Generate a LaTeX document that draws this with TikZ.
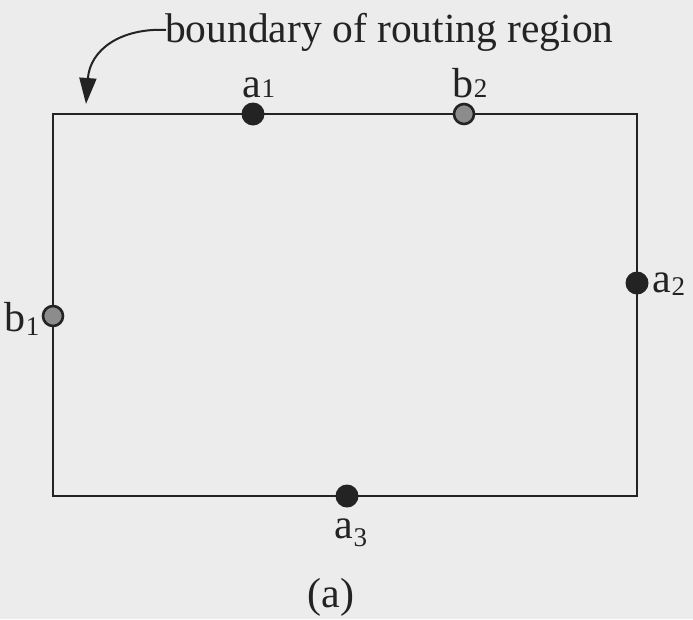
\documentclass[tikz,border=0pt]{standalone}
\usepackage{fontspec}
\setmainfont{Liberation Serif}
\usetikzlibrary{arrows.meta}
\definecolor{bg}{RGB}{236,236,236}
\definecolor{ink}{RGB}{35,35,35}
\definecolor{stip}{RGB}{140,140,140}
\begin{document}
\begin{tikzpicture}[x=1pt,y=-1pt,
  lbl/.style={inner sep=0pt,text=ink,font=\fontsize{42}{48}\selectfont},
  soliddot/.style={circle,fill=ink,minimum size=23pt,inner sep=0pt},
  stipdot/.style={circle,fill=stip,draw=ink,line width=2.6pt,minimum size=20pt,inner sep=0pt},
  edge/.style={draw=ink,line width=2.3pt}]
\fill[bg] (0,0) rectangle (693,619);
\useasboundingbox (0,0) rectangle (693,619);
\coordinate (tl) at (53,114);
\coordinate (br) at (637,496);
\draw[edge] (tl) rectangle (br);
\node[soliddot] (a1) at (253,114) {};
\node[stipdot] (b2) at (464,114) {};
\node[stipdot] (b1) at (53,316) {};
\node[soliddot] (a2) at (637,283) {};
\node[soliddot] (a3) at (347,496) {};
\node[lbl,anchor=base] (la1) at (259,97) {a\raisebox{0pt}{\fontsize{27}{30}\selectfont 1}};
\node[lbl,anchor=base] (lb2) at (470,97) {b\raisebox{0pt}{\fontsize{27}{30}\selectfont 2}};
\node[lbl,anchor=base] (lb1) at (22,331) {b\raisebox{-4pt}{\fontsize{27}{30}\selectfont 1}};
\node[lbl,anchor=base] (la2) at (669,292) {a\raisebox{-3pt}{\fontsize{27}{30}\selectfont 2}};
\node[lbl,anchor=base] (la3) at (351,538) {a\raisebox{-8pt}{\fontsize{27}{30}\selectfont 3}};
\node[lbl,anchor=base] (cap) at (331,607) {(a)};
\node[lbl,anchor=base west,font=\fontsize{41.5}{48}\selectfont] (title) at (165,42) {boundary of routing region};
\draw[draw=ink,line width=2pt,-{Triangle[length=26pt,width=17pt]}] ([xshift=1pt,yshift=2pt]title.west) .. controls (120,28) and (90,50) .. (86,104);
\end{tikzpicture}
\end{document}
